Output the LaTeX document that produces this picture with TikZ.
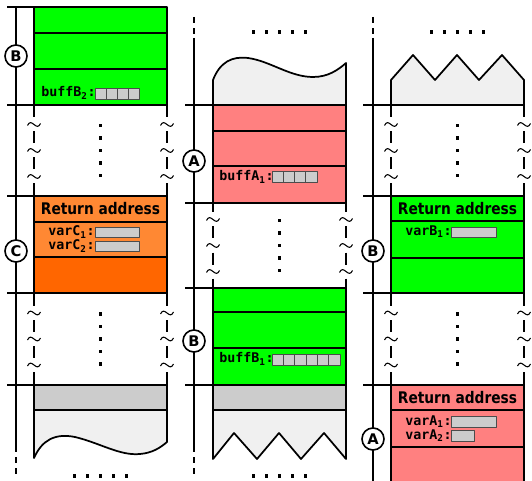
\documentclass[tikz,border=0pt]{standalone}
\usepackage{fontspec}
\setmainfont{DejaVu Sans}
\setmonofont{DejaVu Sans Mono}
\newfontfamily\narrowfont{DejaVu Sans}[FakeStretch=0.86]
\definecolor{stackgreen}{HTML}{00FF00}
\definecolor{stackred}{HTML}{FF8080}
\definecolor{stackorange}{HTML}{FF8833}
\definecolor{stackrust}{HTML}{FF6600}
\definecolor{cellgrey}{HTML}{CCCCCC}
\definecolor{floorgrey}{HTML}{CCCCCC}
\definecolor{restgrey}{HTML}{F0F0F0}
\tikzset{
  frame/.style={line width=1.3pt},
  axis/.style={line width=1.3pt},
  wave/.style={line width=0.8pt},
  cell/.style={draw=black!70, fill=cellgrey, line width=0.6pt},
  tag/.style={circle, draw, fill=white, line width=1.2pt, minimum size=16.5pt, inner sep=0pt, font=\bfseries\fontsize{11}{13}\selectfont},
  varname/.style={anchor=west, inner sep=0pt, font=\ttfamily\bfseries\fontsize{10}{12}\selectfont},
  retaddr/.style={inner sep=0pt, font=\narrowfont\bfseries\fontsize{12}{14}\selectfont}
}
\begin{document}
\begin{tikzpicture}[x=0.75pt, y=-0.75pt, line join=round]
  \useasboundingbox (0,0) rectangle (532,481);
  \def\gapzone#1#2#3#4{
    \pgfmathsetmacro\gc{(#3+#4)/2}
    \pgfmathsetmacro\gm{(#1+#2)/2}
    \foreach \gx in {#1,#2}{
      \draw[frame] (\gx,#3) -- (\gx,\gc-33) (\gx,\gc-19) -- (\gx,\gc-7) (\gx,\gc+7) -- (\gx,\gc+19) (\gx,\gc+33) -- (\gx,#4);
      \foreach \gt in {-26,0,26}
        \draw[wave] (\gx-6.5,\gc+\gt+1) .. controls (\gx-2.5,\gc+\gt-8) and (\gx+2.5,\gc+\gt+8) .. (\gx+6.5,\gc+\gt-1);
    }
    \foreach \gd in {-25,-12.5,0,12.5,25}
      \fill (\gm-1.75,\gc+\gd-1.75) rectangle ++(3.5,3.5);
  }
  \def\dotrow#1#2{\foreach \dd in {-26,-13,0,13,26} \fill (#1+\dd-1.75,#2-1.75) rectangle ++(3.5,3.5);}
  \def\cellrow#1#2#3#4{\foreach \k in {1,...,#3} \draw[cell] ({#1+(\k-1)*#4},#2) rectangle ++(#4,11);}

  % left stack
  \foreach \ya/\yb in {7/33,33/69,69/105}
    \filldraw[frame,fill=stackgreen] (34,\ya) rectangle (167,\yb);
  \gapzone{34}{167}{105}{196}
  \filldraw[frame,fill=stackorange] (34,196) rectangle (167,222);
  \filldraw[frame,fill=stackorange] (34,222) rectangle (167,257);
  \filldraw[frame,fill=stackrust] (34,257) rectangle (167,293);
  \gapzone{34}{167}{293}{385}
  \filldraw[frame,fill=floorgrey] (34,385) rectangle (167,410);
  \filldraw[frame,fill=restgrey] (34,410) -- (167,410) -- (167,442) .. controls (160,448) and (152,453) .. (140,454) .. controls (120,456) and (100,443) .. (75,437) .. controls (55,433) and (42,440) .. (34,458) -- cycle;
  \foreach \ty in {7,105,196,293,385} \draw[frame] (7,\ty) -- (167,\ty);
  \draw[axis] (16,7) -- (16,452);
  \draw[axis,dash pattern=on 4.5pt off 4pt] (16,457) -- (16,477);
  \dotrow{100.5}{476}
  \node[tag] (tagB2) at (16,56) {B};
  \node[tag] (tagC) at (16,251) {C};
  \node[varname] (buffB2) at (41,93) {buffB\textsubscript{2}:};
  \cellrow{95}{88}{4}{11}
  \node[retaddr] (retC) at (100.5,209) {Return address};
  \node[varname] (varC1) at (48,232) {varC\textsubscript{1}:};
  \node[varname] (varC2) at (48,246) {varC\textsubscript{2}:};
  \draw[cell] (95,227) rectangle (139,237);
  \draw[cell] (95,241) rectangle (139,251);

  % middle stack
  \filldraw[frame,fill=restgrey] (213,105) -- (213,80) .. controls (220,62) and (232,56) .. (248,58) .. controls (270,61) and (290,77) .. (313,77) .. controls (328,77) and (338,70) .. (346,63) -- (346,105) -- cycle;
  \foreach \ya/\yb in {105/131,131/166,166/203}
    \filldraw[frame,fill=stackred] (213,\ya) rectangle (346,\yb);
  \gapzone{213}{346}{203}{288}
  \foreach \ya/\yb in {288/312,312/348,348/385}
    \filldraw[frame,fill=stackgreen] (213,\ya) rectangle (346,\yb);
  \filldraw[frame,fill=floorgrey] (213,385) rectangle (346,410);
  \filldraw[frame,fill=restgrey] (213,410) -- (346,410) -- (346,459) -- (324,433) -- (301,459) -- (279,433) -- (257,459) -- (234,433) -- (213,459) -- cycle;
  \foreach \ty in {105,203,288,385} \draw[frame] (185,\ty) -- (346,\ty);
  \draw[axis,dash pattern=on 4.5pt off 4pt] (194,17) -- (194,34);
  \draw[axis] (194,38) -- (194,452);
  \draw[axis,dash pattern=on 4.5pt off 4pt] (194,457) -- (194,477);
  \dotrow{279.5}{32}
  \dotrow{279.5}{476}
  \node[tag] (tagA1) at (194,161) {A};
  \node[tag] (tagB1) at (194,341) {B};
  \node[varname] (buffA1) at (219,177) {buffA\textsubscript{1}:};
  \cellrow{272}{171.5}{4}{11.25}
  \node[varname] (buffB1) at (219,359) {buffB\textsubscript{1}:};
  \cellrow{272}{354}{6}{11.33}

  % right stack
  \filldraw[frame,fill=restgrey] (391,105) -- (391,80) -- (413,55) -- (435,80) -- (457,55) -- (479,80) -- (502,55) -- (524,80) -- (524,105) -- cycle;
  \gapzone{391}{524}{105}{196}
  \filldraw[frame,fill=stackgreen] (391,196) rectangle (524,221);
  \filldraw[frame,fill=stackgreen] (391,221) rectangle (524,258);
  \filldraw[frame,fill=stackgreen] (391,258) rectangle (524,293);
  \gapzone{391}{524}{293}{385}
  \filldraw[frame,fill=stackred] (391,385) rectangle (524,410);
  \filldraw[frame,fill=stackred] (391,410) rectangle (524,447);
  \filldraw[frame,fill=stackred] (391,447) rectangle (524,490);
  \foreach \ty in {105,196,293,385} \draw[frame] (363,\ty) -- (524,\ty);
  \draw[axis,dash pattern=on 4.5pt off 4pt] (373,17) -- (373,34);
  \draw[axis] (373,38) -- (373,490);
  \dotrow{457.5}{32}
  \node[tag] (tagB3) at (373,251) {B};
  \node[tag] (tagA3) at (373,439) {A};
  \node[retaddr] (retB) at (457.5,208.5) {Return address};
  \node[varname] (varB1) at (405,232) {varB\textsubscript{1}:};
  \draw[cell] (451,227) rectangle (496,237);
  \node[retaddr] (retA) at (457.5,397.5) {Return address};
  \node[varname] (varA1) at (405,421.5) {varA\textsubscript{1}:};
  \node[varname] (varA2) at (405,435.5) {varA\textsubscript{2}:};
  \draw[cell] (451,416) rectangle (496,427);
  \draw[cell] (451,430) rectangle (474,441);
\end{tikzpicture}
\end{document}
